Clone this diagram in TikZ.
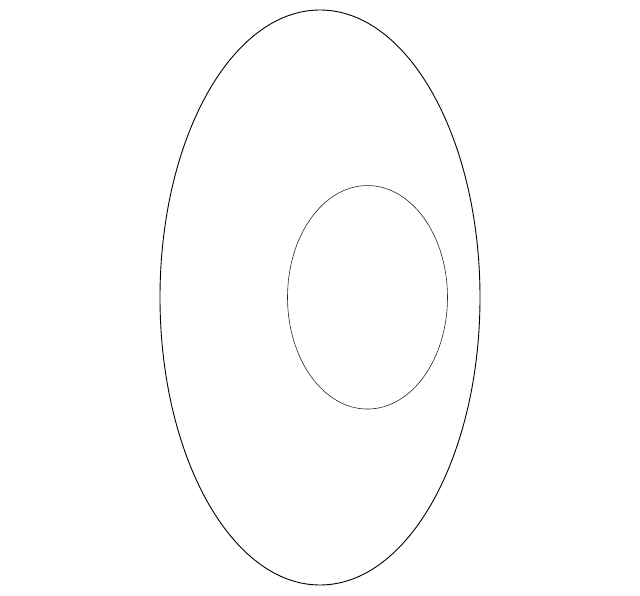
\documentclass[tikz,border=0pt]{standalone}
\usetikzlibrary{shapes.geometric}
\begin{document}
\begin{tikzpicture}[x=1pt,y=-1pt,
  outerring/.style={draw=black,line width=0.9pt},
  innerring/.style={draw=black!85,line width=0.6pt}]
\useasboundingbox (0,0) rectangle (640,596);
\node[outerring,ellipse,minimum width=320pt,minimum height=575pt,inner sep=0pt] (outer) at (320,297.5) {};
\node[innerring,ellipse,minimum width=160pt,minimum height=223.5pt,inner sep=0pt] (inner) at (367.5,297.3) {};
\end{tikzpicture}
\end{document}
